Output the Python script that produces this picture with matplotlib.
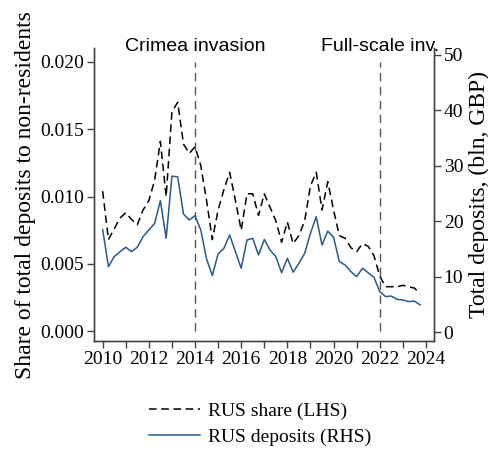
import numpy as np
import matplotlib
matplotlib.use("Agg")
import matplotlib.pyplot as plt
from matplotlib.ticker import FixedLocator, FuncFormatter

# Quarterly observations, 2010Q1 - 2023Q4
years = list(range(2010, 2024))
quarters = [0.0, 0.25, 0.5, 0.75]

rus_share = [
    0.0104, 0.0068, 0.0076, 0.0084,   # 2010
    0.0088, 0.0083, 0.0079, 0.0090,   # 2011
    0.0097, 0.0112, 0.0141, 0.0100,   # 2012
    0.0163, 0.0170, 0.0139, 0.0132,   # 2013
    0.0137, 0.0123, 0.0097, 0.0068,   # 2014
    0.0090, 0.0105, 0.0118, 0.0097,   # 2015
    0.0075, 0.0102, 0.0102, 0.0086,   # 2016
    0.0102, 0.0092, 0.0082, 0.0066,   # 2017
    0.0081, 0.0065, 0.0071, 0.0082,   # 2018
    0.0108, 0.0118, 0.0090, 0.0111,   # 2019
    0.0090, 0.0071, 0.0069, 0.0062,   # 2020
    0.0059, 0.0065, 0.0063, 0.0056,   # 2021
    0.0041, 0.0033, 0.0033, 0.0033,   # 2022
    0.0034, 0.0033, 0.0032, 0.0028,   # 2023
]

rus_deposits = [
    18.5, 11.8, 13.6, 14.5,   # 2010
    15.3, 14.5, 15.3, 17.2,   # 2011
    18.4, 19.6, 23.7, 16.9,   # 2012
    28.1, 28.0, 21.3, 20.2,   # 2013
    21.0, 18.4, 13.2, 10.2,   # 2014
    14.1, 15.1, 17.5, 14.5,   # 2015
    11.5, 16.6, 16.9, 13.9,   # 2016
    16.7, 14.8, 13.6, 10.7,   # 2017
    13.3, 10.8, 12.4, 14.2,   # 2018
    17.8, 20.8, 15.7, 18.2,   # 2019
    17.1, 12.7, 12.1, 10.9,   # 2020
    10.0, 11.5, 10.7, 9.9,    # 2021
    7.3, 6.4, 6.5, 5.9,       # 2022
    5.8, 5.5, 5.6, 4.9,       # 2023
]

events = [2014, 2022]
event_labels = ["Crimea invasion", "Full-scale inv."]

left_ticks = [0.000, 0.005, 0.010, 0.015, 0.020]
right_ticks = [0, 10, 20, 30, 40, 50]
x_label_years = list(range(2010, 2025, 2))
x_tick_years = list(range(2010, 2025))

dates = np.array([y + q for y in years for q in quarters])

serif = ["Liberation Serif", "DejaVu Serif"]
plt.rcParams["font.family"] = serif

fig = plt.figure(figsize=(4.89, 4.53), dpi=100)
ax = fig.add_axes([0.192, 0.247, 0.6955, 0.647])
ax2 = ax.twinx()

share_line, = ax.plot(dates, rus_share, color="black", lw=1.1,
                      linestyle=(0, (5, 3)), label="RUS share (LHS)")
dep_line, = ax2.plot(dates, rus_deposits, color="#285a8a", lw=1.1,
                     label="RUS deposits (RHS)")

for ev in events:
    ax.plot([ev, ev], [0.0, 0.0200], color="#555555", lw=1.0,
            linestyle=(0, (6, 4)), zorder=1)

ax.set_xlim(2009.62, 2024.35)
ax.set_ylim(-0.00074, 0.02103)
ax2.set_ylim(-1.62, 51.2)

ax.xaxis.set_major_locator(FixedLocator(x_tick_years))
ax.xaxis.set_major_formatter(
    FuncFormatter(lambda v, p: f"{int(round(v))}" if int(round(v)) in x_label_years else ""))
ax.yaxis.set_major_locator(FixedLocator(left_ticks))
ax.yaxis.set_major_formatter(FuncFormatter(lambda v, p: f"{v:.3f}"))
ax2.yaxis.set_major_locator(FixedLocator(right_ticks))

for a in (ax, ax2):
    a.spines["top"].set_visible(False)
    for s in a.spines.values():
        s.set_color("#444444")
        s.set_linewidth(1.0)
    a.tick_params(direction="out", length=5, width=1.0, color="#444444",
                  labelsize=14, pad=2)

ax.set_ylabel("Share of total deposits to non-residents", fontsize=17, labelpad=3)
ax2.set_ylabel("Total deposits, (bln, GBP)", fontsize=17, labelpad=4)

for ev, lab in zip(events, event_labels):
    ax.text(ev, 1.005, lab, transform=ax.get_xaxis_transform(), ha="center",
            va="center", fontsize=14, family=["Liberation Sans", "DejaVu Sans"],
            color="black")

fig.legend(handles=[share_line, dep_line], loc="center",
           bbox_to_anchor=(0.532, 0.064), frameon=False, fontsize=14,
           handlelength=2.6, handletextpad=0.4, labelspacing=0.45)

fig.savefig("out.png", dpi=100)
